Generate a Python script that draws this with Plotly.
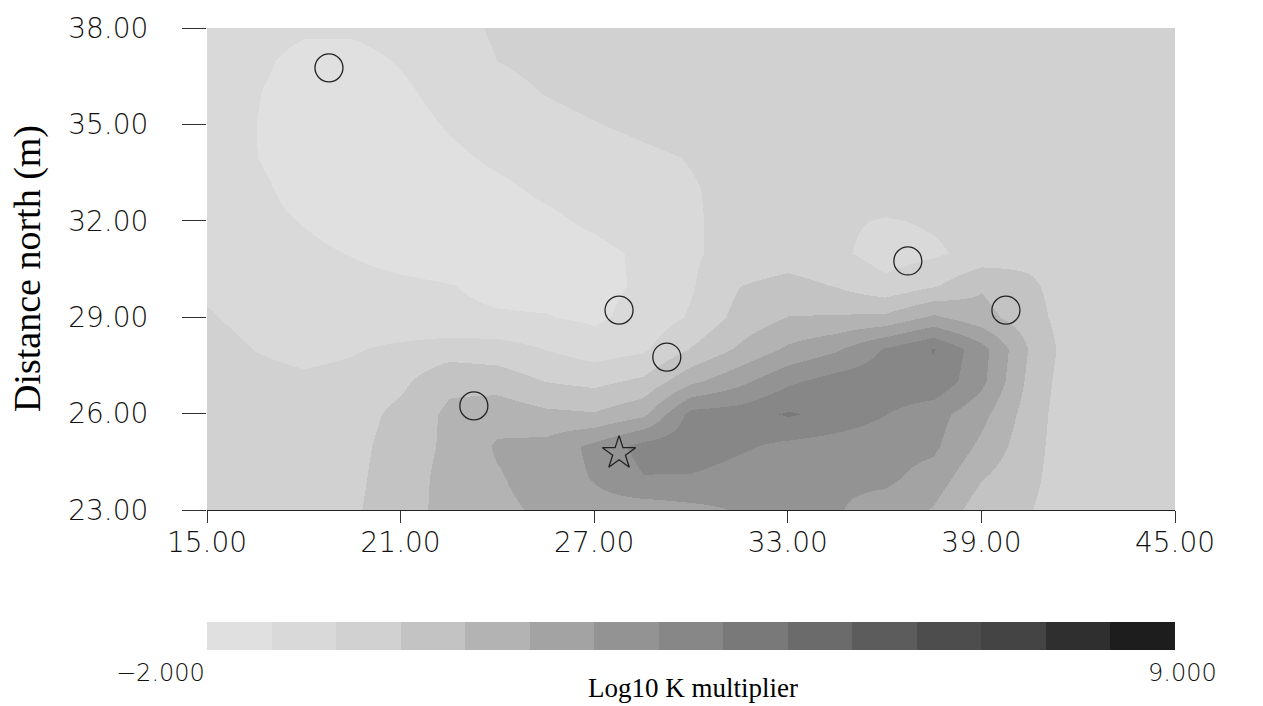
import plotly.graph_objects as go

# Grid node coordinates (m)
x_east = [15.0, 16.5, 18.0, 19.5, 21.0, 22.5, 24.0, 25.5, 27.0, 28.5, 30.0,
          31.5, 33.0, 34.5, 36.0, 37.5, 39.0, 40.5, 42.0, 43.5, 45.0]
y_north = [23, 24, 25, 26, 27, 28, 29, 30, 31, 32, 33, 34, 35, 36, 37, 38]

# Log10 K multiplier on the grid, one row per northing (south -> north)
log_k = [
    [0.0, 0.0, 0.0, 0.1, 0.6, 1.2, 1.5, 1.8, 2.1, 2.0, 2.2, 2.45, 2.5, 2.45, 2.1, 1.6, 0.5, 0.22, -0.25, 0.0, 0.0],
    [0.0, -0.05, -0.05, 0.05, 0.55, 1.2, 1.6, 2.0, 2.45, 3.1, 3.05, 2.8, 2.6, 2.5, 2.55, 2.1, 0.98, 0.35, -0.3, -0.05, 0.0],
    [0.0, -0.1, -0.1, 0.0, 0.5, 1.1, 1.75, 1.9, 2.6, 3.4, 3.6, 3.25, 2.95, 2.8, 2.65, 2.55, 1.5, 0.45, -0.35, -0.05, 0.0],
    [-0.05, -0.15, -0.15, -0.1, 0.4, 1.1, 1.4, 1.1, 1.0, 1.5, 3.4, 3.5, 3.95, 3.6, 3.15, 2.7, 1.9, 0.55, -0.4, -0.05, 0.0],
    [-0.1, -0.3, -0.4, -0.3, 0.05, 0.75, 0.6, 0.18, 0.0, 0.35, 1.5, 2.2, 3.0, 3.45, 3.6, 3.7, 2.6, 0.7, -0.4, -0.05, 0.0],
    [-0.2, -0.55, -0.75, -0.6, -0.35, -0.15, -0.2, -0.55, -0.9, -0.65, 0.25, 1.05, 1.8, 2.3, 3.2, 3.9, 2.7, 0.85, -0.35, -0.05, 0.0],
    [-0.45, -0.8, -0.95, -1.05, -1.12, -1.18, -1.22, -1.24, -1.4, -1.0, -0.45, 0.45, 0.95, 1.0, 1.1, 1.8, 1.2, 0.5, -0.3, -0.05, 0.0],
    [-0.7, -0.82, -0.95, -1.05, -1.15, -1.25, -1.38, -1.45, -1.5, -1.15, -0.6, 0.18, 0.45, 0.15, -0.35, 0.1, 0.85, 0.3, -0.2, 0.0, 0.0],
    [-0.85, -0.95, -1.12, -1.3, -1.5, -1.6, -1.6, -1.55, -1.45, -1.15, -0.62, -0.3, -0.2, -0.38, -0.85, -0.65, -0.3, 0.0, -0.05, 0.0, 0.0],
    [-0.95, -1.08, -1.3, -1.55, -1.65, -1.65, -1.55, -1.4, -1.15, -0.9, -0.6, -0.35, -0.25, -0.4, -0.6, -0.45, -0.2, -0.1, 0.0, 0.0, 0.0],
    [-1.0, -1.12, -1.5, -1.65, -1.65, -1.55, -1.4, -1.15, -0.95, -0.78, -0.58, -0.35, -0.2, -0.12, -0.1, -0.05, 0.0, 0.0, 0.0, 0.0, 0.0],
    [-1.05, -1.25, -1.6, -1.7, -1.6, -1.4, -1.15, -0.95, -0.8, -0.65, -0.5, -0.3, -0.15, -0.05, 0.0, 0.0, 0.0, 0.0, 0.0, 0.0, 0.0],
    [-1.05, -1.26, -1.6, -1.7, -1.55, -1.2, -0.95, -0.75, -0.56, -0.4, -0.25, -0.12, -0.05, 0.0, 0.0, 0.0, 0.0, 0.0, 0.0, 0.0, 0.0],
    [-1.0, -1.22, -1.6, -1.65, -1.4, -1.0, -0.75, -0.5, -0.32, -0.2, -0.1, -0.05, 0.0, 0.0, 0.0, 0.0, 0.0, 0.0, 0.0, 0.0, 0.0],
    [-0.95, -1.1, -1.5, -1.5, -1.2, -0.85, -0.53, -0.35, -0.22, -0.12, -0.08, -0.05, 0.0, 0.0, 0.0, 0.0, 0.0, 0.0, 0.0, 0.0, 0.0],
    [-0.9, -0.95, -1.15, -1.15, -1.0, -0.75, -0.45, -0.3, -0.2, -0.12, -0.08, -0.05, 0.0, 0.0, 0.0, 0.0, 0.0, 0.0, 0.0, 0.0, 0.0],
]

# Observation wells and the source location
wells_x = [18.78, 27.77, 29.25, 23.27, 36.72, 39.76]
wells_y = [36.76, 29.22, 27.76, 26.24, 30.75, 29.22]
source_x = [27.77]
source_y = [24.77]

# Colour classes of the legend bar, from -2 to 9
z_min, z_max = -2.0, 9.0
class_colors = ["#e0e0e0", "#d9d9d9", "#d1d1d1", "#c3c3c3", "#b3b3b3",
                "#a3a3a3", "#939393", "#878787", "#797979", "#6b6b6b",
                "#5c5c5c", "#4d4d4d", "#444444", "#2f2f2f", "#1d1d1d"]

x_ticks = [15, 21, 27, 33, 39, 45]
y_ticks = [23, 26, 29, 32, 35, 38]

n = len(class_colors)
stepped_scale = []
for i, c in enumerate(class_colors):
    stepped_scale.append([i / n, c])
    stepped_scale.append([(i + 1) / n, c])

num_family = "DejaVu Sans"
tick_font = dict(family=num_family, size=28, color="#111111", weight=200)
serif = "Liberation Serif, Times New Roman, serif"

fig = go.Figure()

fig.add_trace(go.Heatmap(
    x=x_east, y=y_north, z=log_k,
    zmin=z_min, zmax=z_max, zsmooth="best",
    colorscale=stepped_scale,
    hoverinfo="skip",
    colorbar=dict(
        orientation="h", x=0.5, xanchor="center",
        y=-0.2324, yanchor="top",
        len=1.0, lenmode="fraction",
        thickness=28, thicknessmode="pixels",
        outlinewidth=0, xpad=0, ypad=0,
        ticks="", showticklabels=False,
    ),
))

fig.add_trace(go.Scatter(
    x=wells_x, y=wells_y, mode="markers",
    marker=dict(symbol="circle-open", size=28, color="#222222",
                line=dict(width=1.3, color="#222222")),
    hoverinfo="skip", showlegend=False,
))

fig.add_trace(go.Scatter(
    x=source_x, y=source_y, mode="markers",
    marker=dict(symbol="star-open", size=25, color="#222222",
                line=dict(width=1.3, color="#222222")),
    hoverinfo="skip", showlegend=False,
))

fig.update_layout(
    width=1263, height=706,
    margin=dict(l=207, r=88, t=28, b=196),
    paper_bgcolor="white", plot_bgcolor="white",
    showlegend=False,
    xaxis=dict(
        range=[15, 45], tickvals=x_ticks, tickformat=".2f",
        ticks="outside", ticklen=12, tickwidth=1, tickcolor="#333333",
        showline=True, linecolor="#222222", linewidth=1,
        showgrid=False, zeroline=False, tickfont=tick_font,
        ticklabelstandoff=-5,
    ),
    yaxis=dict(
        range=[23, 38], tickvals=y_ticks, tickformat=".2f",
        ticks="outside", ticklen=24, tickwidth=1, tickcolor="#333333",
        showline=False, showgrid=False, zeroline=False,
        tickfont=tick_font, ticklabelstandoff=28,
    ),
    annotations=[
        dict(text="Distance north (m)", xref="paper", yref="paper",
             x=(27 - 207) / 968, y=0.5, xanchor="center", yanchor="middle",
             textangle=-90, showarrow=False,
             font=dict(family=serif, size=38, color="black")),
        dict(text="\u22122.000", xref="paper", yref="paper",
             x=0.0, y=(510 - 673) / 482,
             xanchor="right", yanchor="middle", showarrow=False,
             font=dict(family=num_family, size=24, color="#111111", weight=200)),
        dict(text="9.000", xref="paper", yref="paper",
             x=(1146 - 207) / 968, y=(510 - 673) / 482,
             xanchor="left", yanchor="middle", showarrow=False,
             font=dict(family=num_family, size=24, color="#111111", weight=200)),
        dict(text="Log10 K multiplier", xref="paper", yref="paper",
             x=(693 - 207) / 968, y=(510 - 688) / 482,
             xanchor="center", yanchor="middle", showarrow=False,
             font=dict(family=serif, size=27, color="black")),
    ],
)

fig.write_html("out.html")
